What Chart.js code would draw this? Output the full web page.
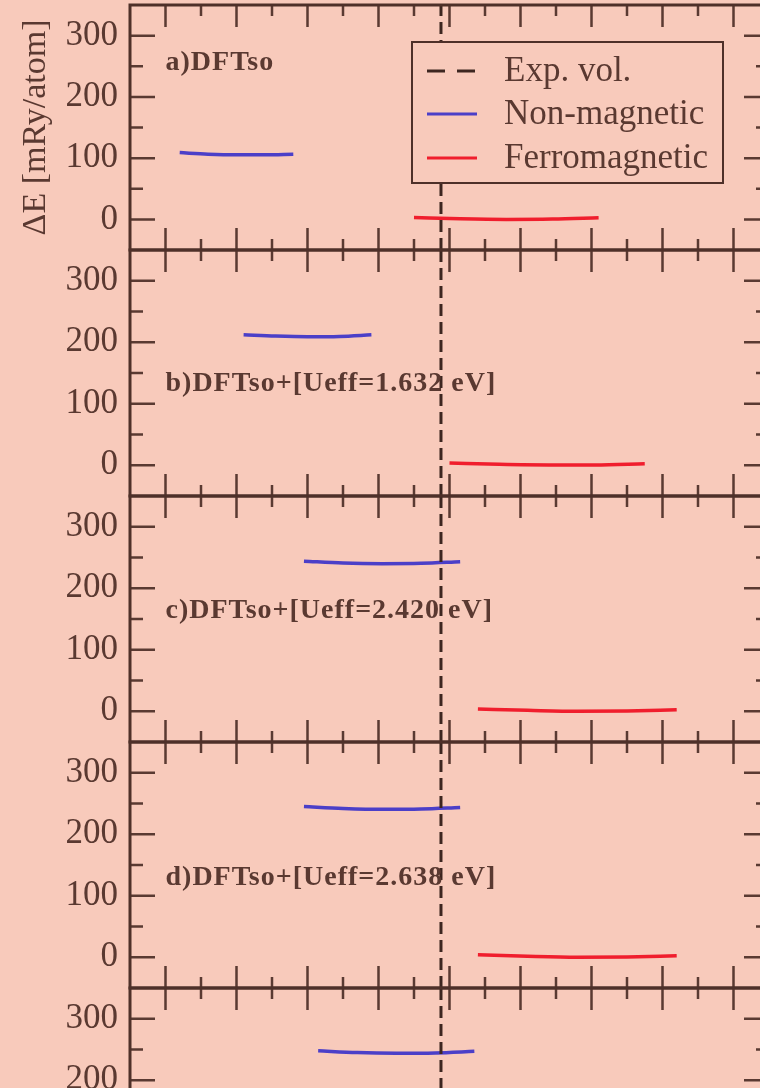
<!DOCTYPE html>
<html>
<head>
<meta charset="utf-8">
<script src="https://cdn.jsdelivr.net/npm/chart.js@4.4.1/dist/chart.umd.min.js"></script>
<style>
  html, body { margin: 0; padding: 0; overflow: hidden; width: 760px; height: 1088px; background: #f8cabb; }
  canvas.painel { position: absolute; left: 0; }
</style>
</head>
<body>
<script>
// ===== DADOS =====
const volMin = 14.5, volMax = 23.5;   // eixo x (volume), sem rótulos visíveis
const eMin = -50, eMax = 350;
const yTickLabels = [0, 100, 200, 300];
const expVol = 18.88;
const legendLabels = ['Exp. vol.', 'Non-magnetic', 'Ferromagnetic'];
const panelLabels = ['a)DFTso', 'b)DFTso+[Ueff=1.632 eV]', 'c)DFTso+[Ueff=2.420 eV]', 'd)DFTso+[Ueff=2.638 eV]', ''];

// a) DFTso
const nmVolA = [15.2, 15.6, 16.0, 16.4, 16.8];
const nmEA   = [109, 106.5, 105.5, 105.5, 106.5];
const fmVolA = [18.5, 19.15, 19.8, 20.45, 21.1];
const fmEA   = [3, 1, 0, 0.5, 2.5];
// b) Ueff = 1.632 eV
const nmVolB = [16.1, 16.55, 17.0, 17.45, 17.9];
const nmEB   = [212, 210, 209, 209.5, 212];
const fmVolB = [19.0, 19.7, 20.4, 21.05, 21.75];
const fmEB   = [3.5, 1.5, 0.5, 0.5, 2.5];
// c) Ueff = 2.420 eV
const nmVolC = [16.95, 17.5, 18.05, 18.6, 19.15];
const nmEC   = [244, 241, 240, 240.5, 243];
const fmVolC = [19.4, 20.1, 20.8, 21.5, 22.2];
const fmEC   = [3.5, 1.5, 0, 0.5, 2.5];
// d) Ueff = 2.638 eV
const nmVolD = [16.95, 17.5, 18.05, 18.6, 19.15];
const nmED   = [245, 242, 240.5, 241, 243.5];
const fmVolD = [19.4, 20.1, 20.8, 21.5, 22.2];
const fmED   = [4, 1.5, 0, 0.5, 2.5];
// e) (cortado na imagem, só a curva NM aparece)
const nmVolE = [17.15, 17.7, 18.25, 18.8, 19.35];
const nmEE   = [248, 245, 244, 244.5, 247];

const nmVol = [nmVolA, nmVolB, nmVolC, nmVolD, nmVolE];
const nmE   = [nmEA, nmEB, nmEC, nmED, nmEE];
const fmVol = [fmVolA, fmVolB, fmVolC, fmVolD, []];
const fmE   = [fmEA, fmEB, fmEC, fmED, []];

// ===== ESTILO / LAYOUT =====
const BG = '#f8cabb', FRAME = '#4e3029', TICK = '#5a3a32', TXT = '#5a3931';
const BLUE = '#4b3fc8', RED = '#f01e2d', DASH = '#3d2620';
const SERIF = '"Liberation Serif", "Times New Roman", serif';
const panelTops = [5, 250, 496, 742, 988];
const labelAt = [256, 132, 164, 129, 0];   // altura do rótulo de cada painel (unid. de energia)
const PAD = 30, CW = 800, RIGHT = 769, AXIS_W = 130;

function pontos(xs, ys) {
  return xs.map((v, i) => ({ x: v, y: ys[i] }));
}

// ===== PLUGIN: moldura, ticks internos, rótulo e legenda =====
const molduraPlugin = {
  id: 'moldura',
  afterDatasetsDraw(chart, args, opts) {
    const { ctx, chartArea: a, scales: { x, y } } = chart;
    ctx.save();

    // ticks x (cima e baixo)
    ctx.strokeStyle = TICK;
    ctx.lineWidth = 2.5;
    for (let v = volMin + 0.5; v < volMax - 0.01; v += 0.5) {
      const px = x.getPixelForValue(v);
      const len = Math.abs(v - Math.round(v)) < 0.01 ? 22 : 11;
      ctx.beginPath();
      ctx.moveTo(px, a.top); ctx.lineTo(px, a.top + len);
      ctx.moveTo(px, a.bottom); ctx.lineTo(px, a.bottom - len);
      ctx.stroke();
    }
    // ticks y (esquerda e direita)
    for (let v = eMin + 50; v < eMax; v += 50) {
      const py = y.getPixelForValue(v);
      const len = v % 100 === 0 ? 25 : 13;
      ctx.beginPath();
      ctx.moveTo(a.left, py); ctx.lineTo(a.left + len, py);
      ctx.moveTo(a.right, py); ctx.lineTo(a.right - len, py);
      ctx.stroke();
    }

    // moldura
    ctx.strokeStyle = FRAME;
    ctx.lineWidth = 3;
    ctx.strokeRect(a.left, a.top, a.right - a.left, a.bottom - a.top);

    // rótulo do painel
    if (opts.label) {
      ctx.fillStyle = TXT;
      ctx.font = 'bold 28px ' + SERIF;
      ctx.letterSpacing = '1px';
      ctx.textBaseline = 'middle';
      ctx.textAlign = 'left';
      ctx.fillText(opts.label, x.getPixelForValue(15), y.getPixelForValue(opts.labelY));
      ctx.letterSpacing = '0px';
    }

    // legenda (só no primeiro painel)
    if (opts.legenda) {
      const bx = a.left + 282, by = a.top + 37, bw = 311, bh = 141;
      ctx.fillStyle = BG;
      ctx.fillRect(bx, by, bw, bh);
      ctx.strokeStyle = FRAME;
      ctx.lineWidth = 2;
      ctx.strokeRect(bx, by, bw, bh);
      const rows = [29, 72, 116];
      chart.data.datasets.forEach((ds, i) => {
        const ry = by + rows[i];
        ctx.strokeStyle = ds.borderColor;
        ctx.lineWidth = 3;
        ctx.setLineDash(i === 0 ? [18, 12] : []);
        ctx.beginPath();
        ctx.moveTo(bx + 15, ry); ctx.lineTo(bx + 65, ry);
        ctx.stroke();
        ctx.setLineDash([]);
        ctx.fillStyle = TXT;
        ctx.font = '35px ' + SERIF;
        ctx.textBaseline = 'middle';
        ctx.textAlign = 'left';
        ctx.fillText(ds.label, bx + 92, ry + 1);
      });
    }
    ctx.restore();
  }
};

// ===== MONTAR PAINÉIS =====
panelTops.forEach((top, k) => {
  const h = k < panelTops.length - 1 ? panelTops[k + 1] - top : 246;
  const cv = document.createElement('canvas');
  cv.className = 'painel';
  cv.width = CW;
  cv.height = h + 2 * PAD;
  cv.style.top = (top - PAD) + 'px';
  cv.style.width = CW + 'px';
  cv.style.height = (h + 2 * PAD) + 'px';
  document.body.appendChild(cv);

  new Chart(cv.getContext('2d'), {
    type: 'line',
    data: {
      datasets: [
        { label: legendLabels[0], data: pontos([expVol, expVol], [eMin, eMax]), borderColor: DASH,
          borderWidth: 3, borderDash: [12, 6], pointRadius: 0 },
        { label: legendLabels[1], data: pontos(nmVol[k], nmE[k]), borderColor: BLUE,
          borderWidth: 3.5, pointRadius: 0, cubicInterpolationMode: 'monotone' },
        { label: legendLabels[2], data: pontos(fmVol[k], fmE[k]), borderColor: RED,
          borderWidth: 3.5, pointRadius: 0, cubicInterpolationMode: 'monotone' }
      ]
    },
    options: {
      responsive: false,
      animation: false,
      devicePixelRatio: 1,
      layout: { padding: { top: PAD, bottom: PAD, left: 0, right: CW - RIGHT } },
      plugins: {
        legend: { display: false },
        tooltip: { enabled: false },
        moldura: { label: panelLabels[k], labelY: labelAt[k], legenda: k === 0 }
      },
      scales: {
        x: { type: 'linear', min: volMin, max: volMax, display: false },
        y: {
          min: eMin, max: eMax,
          afterFit: s => { s.width = AXIS_W; s.paddingTop = 0; s.paddingBottom = 0; },
          grid: { display: false, drawTicks: false },
          border: { display: false },
          ticks: {
            stepSize: 50, padding: 12, color: TXT, autoSkip: false,
            font: { family: SERIF, size: 35 },
            callback: v => yTickLabels.includes(v) ? String(v) : ''
          },
          title: {
            display: k === 0, text: 'ΔE [mRy/atom]', color: TXT,
            font: { family: SERIF, size: 34 }, padding: { top: 16 }
          }
        }
      }
    },
    plugins: [molduraPlugin]
  });
});
</script>
</body>
</html>
